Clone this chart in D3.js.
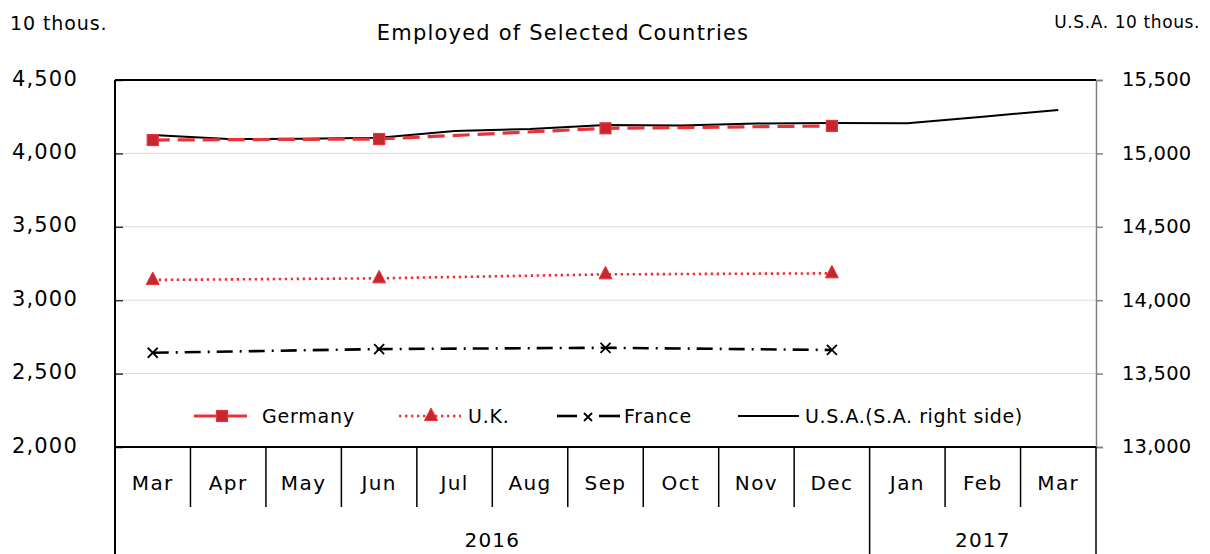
<!DOCTYPE html>
<html><head><meta charset="utf-8">
<script src="https://cdn.jsdelivr.net/npm/d3@7"></script>
<style>
body{margin:0;background:#fff;}
svg{display:block;font-family:"DejaVu Sans",sans-serif;}
</style></head>
<body><svg id="c" width="1210" height="554"></svg>
<script>
const months = ["Mar","Apr","May","Jun","Jul","Aug","Sep","Oct","Nov","Dec","Jan","Feb","Mar"];
const years = [{label:"2016", from:0, to:9},{label:"2017", from:10, to:12}];
const leftTicks = [2000,2500,3000,3500,4000,4500];
const rightTicks = [13000,13500,14000,14500,15000,15500];
// quarterly series: month index, value
const germanyIdx = [0,3,6,9];
const germany = [4091,4098,4171,4187];
const ukIdx = [0,3,6,9];
const uk = [3138,3149,3176,3183];
const franceIdx = [0,3,6,9];
const france = [2642,2667,2676,2661];
const usa = [15125,15098,15100,15107,15153,15166,15193,15190,15203,15207,15205,15250,15296];

const svg = d3.select("#c");
const L=115, R=1096, T=80, B=447;
const x = d3.scaleBand().domain(d3.range(months.length)).range([L,R]);
const cx = i => x(i)+x.bandwidth()/2;
const yL = d3.scaleLinear().domain([2000,4500]).range([B,T]);
const yR = d3.scaleLinear().domain([13000,15500]).range([B,T]);
const red="#ea3339", dred="#c4282e";

// gridlines
svg.append("g").selectAll("line").data(leftTicks.filter(t=>t>2000&&t<4500)).join("line")
  .attr("x1",L).attr("x2",R).attr("y1",d=>yL(d)).attr("y2",d=>yL(d))
  .attr("stroke","#d9d9d9").attr("stroke-width",1);

// right axis (gray)
const ra = svg.append("g").attr("transform",`translate(${R},0)`)
  .call(d3.axisRight(yR).tickValues(rightTicks).tickSize(7).tickFormat(d3.format(",")));
ra.select(".domain").attr("stroke","#808080").attr("stroke-width",1.5);
ra.selectAll(".tick line").attr("stroke","#808080").attr("stroke-width",1.5);
ra.selectAll("text").attr("x",26).attr("dy","0.3em").attr("font-size",19.5).attr("fill","#000").attr("letter-spacing",0.2)
  .attr("font-family","DejaVu Sans");

// left axis
const la = svg.append("g").attr("transform",`translate(${L},0)`)
  .call(d3.axisLeft(yL).tickValues(leftTicks).tickSize(-8).tickFormat(d3.format(",")));
la.select(".domain").remove();
la.selectAll(".tick line").attr("stroke","#333").attr("stroke-width",1.5);
la.selectAll("text").attr("x",-37).attr("dy","0.24em").attr("font-size",21).attr("fill","#000")
  .attr("letter-spacing",1.2).attr("font-family","DejaVu Sans");

// frame
svg.append("line").attr("x1",L).attr("x2",R).attr("y1",T).attr("y2",T).attr("stroke","#000").attr("stroke-width",2);
svg.append("line").attr("x1",L).attr("x2",L).attr("y1",T).attr("y2",554).attr("stroke","#000").attr("stroke-width",2);
svg.append("line").attr("x1",L).attr("x2",R).attr("y1",B).attr("y2",B).attr("stroke","#000").attr("stroke-width",2);
svg.append("line").attr("x1",R).attr("x2",R).attr("y1",B).attr("y2",554).attr("stroke","#000").attr("stroke-width",1.5);

// category dividers
const g = svg.append("g");
months.forEach((m,i)=>{
  if(i>0){
    const isYear = years.some(y=>y.from===i);
    g.append("line").attr("x1",x(i)).attr("x2",x(i)).attr("y1",B).attr("y2",isYear?554:507)
      .attr("stroke","#000").attr("stroke-width",1.5);
  }
  g.append("text").attr("x",cx(i)).attr("y",490).attr("text-anchor","middle")
    .attr("font-size",20).attr("letter-spacing",1.4).text(m);
});
years.forEach(y=>{
  g.append("text").attr("x",(x(y.from)+x(y.to)+x.bandwidth())/2).attr("y",547).attr("text-anchor","middle")
    .attr("font-size",20).attr("letter-spacing",1.2).text(y.label);
});

// lines
const lineL = d3.line().x(d=>cx(d[0])).y(d=>yL(d[1]));
const lineR = d3.line().x(d=>cx(d[0])).y(d=>yR(d[1]));
const gd = germanyIdx.map((k,i)=>[k,germany[i]]);
const ud = ukIdx.map((k,i)=>[k,uk[i]]);
const fd = franceIdx.map((k,i)=>[k,france[i]]);
const sd = usa.map((v,i)=>[i,v]);

svg.append("path").datum(sd).attr("d",lineR).attr("fill","none").attr("stroke","#000").attr("stroke-width",2);
svg.append("path").datum(gd).attr("d",lineL).attr("fill","none").attr("stroke",red).attr("stroke-width",3.2).attr("stroke-dasharray","17,8");
svg.append("path").datum(ud).attr("d",lineL).attr("fill","none").attr("stroke",red).attr("stroke-width",2.6).attr("stroke-dasharray","2.4,3.6");
svg.append("path").datum(fd).attr("d",lineL).attr("fill","none").attr("stroke","#000").attr("stroke-width",2.6).attr("stroke-dasharray","16,7,2,7");

function square(sel,px,py){sel.append("rect").attr("x",px-5.5).attr("y",py-5.5).attr("width",11).attr("height",11).attr("fill",dred).attr("stroke",red).attr("stroke-width",1.2);}
function tri(sel,px,py){sel.append("path").attr("d",`M${px},${py-8}L${px+6.5},${py+4.5}L${px-6.5},${py+4.5}Z`).attr("fill",dred).attr("stroke",red).attr("stroke-width",1);}
function cross(sel,px,py,s){s=s||5;sel.append("path").attr("d",`M${px-s},${py-s}L${px+s},${py+s}M${px+s},${py-s}L${px-s},${py+s}`).attr("stroke","#000").attr("stroke-width",1.8);}

const mk = svg.append("g");
gd.forEach(d=>square(mk,cx(d[0]),yL(d[1])));
ud.forEach(d=>tri(mk,cx(d[0]),yL(d[1])));
fd.forEach(d=>cross(mk,cx(d[0]),yL(d[1])));

// legend
const lg = svg.append("g");
const ly=416;
lg.append("line").attr("x1",194).attr("x2",247).attr("y1",ly).attr("y2",ly).attr("stroke",red).attr("stroke-width",3.2);
square(lg,222,ly);
lg.append("text").attr("x",262).attr("y",ly+7).attr("font-size",19).attr("letter-spacing",0.8).text("Germany");
lg.append("line").attr("x1",399).attr("x2",461).attr("y1",ly).attr("y2",ly).attr("stroke",red).attr("stroke-width",2.6).attr("stroke-dasharray","2.4,3.6");
tri(lg,431,ly);
lg.append("text").attr("x",468).attr("y",ly+7).attr("font-size",19).attr("letter-spacing",0.8).text("U.K.");
lg.append("line").attr("x1",557).attr("x2",577).attr("y1",ly).attr("y2",ly).attr("stroke","#000").attr("stroke-width",2.6);
lg.append("line").attr("x1",599).attr("x2",620).attr("y1",ly).attr("y2",ly).attr("stroke","#000").attr("stroke-width",2.6);
cross(lg,588,ly+1,4);
lg.append("text").attr("x",624).attr("y",ly+7).attr("font-size",19).attr("letter-spacing",0.8).text("France");
lg.append("line").attr("x1",738).attr("x2",799).attr("y1",ly).attr("y2",ly).attr("stroke","#000").attr("stroke-width",2);
lg.append("text").attr("x",805).attr("y",ly+7).attr("font-size",19).attr("letter-spacing",0.6).text("U.S.A.(S.A. right side)");

// titles
svg.append("text").attr("x",563).attr("y",40).attr("text-anchor","middle").attr("font-size",21).attr("letter-spacing",1.2).text("Employed of Selected Countries");
svg.append("text").attr("x",10).attr("y",30).attr("font-size",19).attr("letter-spacing",0.9).text("10 thous.");
svg.append("text").attr("x",1200).attr("y",28).attr("text-anchor","end").attr("font-size",17).attr("letter-spacing",0.6).text("U.S.A. 10 thous.");
</script></body></html>
